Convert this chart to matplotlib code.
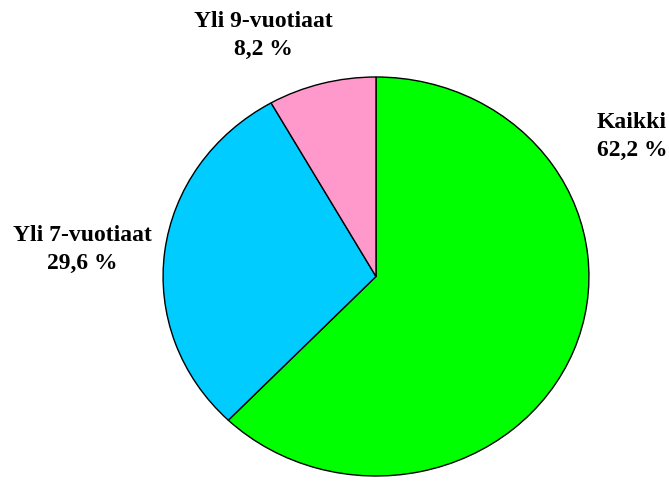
import matplotlib.pyplot as plt

# --- data ---
labels = ['Kaikki', 'Yli 7-vuotiaat', 'Yli 9-vuotiaat']
shares = [62.2, 29.6, 8.2]
colors = ['#00FF00', '#00CCFF', '#FF99CC']

# label positions in pixels (x centre, y of first line from top)
label_pos = [(632, 112), (82, 225), (263, 11)]

W, H = 669, 485
fig = plt.figure(figsize=(W / 100, H / 100), dpi=100)
fig.patch.set_facecolor('white')

# pie area (pixels): left 162, right 590, top 77, bottom 478
l, r, t, b = 162, 590, 77, 478
ax = fig.add_axes([l / W, (H - b) / H, (r - l) / W, (b - t) / H])
ax.pie(shares, colors=colors, startangle=90, counterclock=False,
       wedgeprops=dict(edgecolor='black', linewidth=1.0))
ax.set_aspect('auto')
ax.set_xlim(-1.005, 1.005)
ax.set_ylim(-1.005, 1.005)
ax.axis('off')

for name, val, (px, py) in zip(labels, shares, label_pos):
    txt = f"{name}\n{val:.1f} %".replace('.', ',')
    fig.text(px / W, 1 - py / H, txt, ha='center', va='top',
             family='Liberation Serif', fontweight='bold', fontsize=17,
             linespacing=1.45)

fig.savefig('out.png', dpi=100)
